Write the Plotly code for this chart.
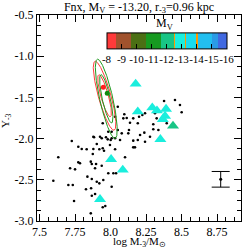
import numpy as np
import plotly.graph_objects as go

# ---------------- data ----------------
dots_x = [7.597, 7.632, 7.703, 7.734, 7.715, 7.750, 7.727, 7.743, 7.773, 7.797,
          7.773, 7.785, 7.832, 7.837, 7.827, 7.861, 7.868, 7.868, 7.863, 7.868,
          7.879, 7.879, 7.875, 7.891, 7.891, 7.898, 7.903, 7.903, 7.921, 7.921,
          7.861, 7.884,
          7.938, 7.945, 7.954, 7.938, 7.949, 7.945, 7.963, 7.945, 7.926, 7.968,
          7.980, 8.001, 7.996, 7.984, 8.020, 8.039, 8.008, 8.008, 8.032, 8.032,
          8.051, 8.032, 8.051, 8.067, 8.079, 8.097, 8.090, 8.102, 7.984, 8.008,
          8.114, 8.137, 8.130, 8.125, 8.160, 8.160, 8.160, 8.172, 8.201, 8.192,
          8.192, 8.208, 8.224, 8.238, 8.243, 8.243, 8.278, 8.301, 8.301, 8.313,
          8.325, 8.337, 8.377, 8.396, 8.454, 8.489, 8.501]
dots_y = [-2.511, -2.227, -2.563, -2.563, -2.360, -2.373, -2.029, -2.757, -2.098, -2.126,
          -2.288, -2.300, -2.130, -2.462, -2.615, -2.280, -2.308, -2.490, -2.603, -2.693,
          -1.977, -2.126, -2.187, -2.360, -2.672, -2.308, -2.066, -2.523, -2.130, -2.543,
          -2.907, -1.984,
          -1.996, -2.118, -2.147, -2.329, -2.502, -2.834, -2.818, -1.814, -1.977, -1.984,
          -2.009, -2.017, -2.078, -2.421, -2.421, -2.421, -2.584, -1.916, -1.996, -2.130,
          -1.613, -1.734, -1.896, -2.017, -1.936, -1.705, -1.754, -2.227, -1.916, -1.996,
          -1.750, -1.807, -1.896, -1.936, -1.754, -2.025, -2.106, -2.106, -1.734, -1.814,
          -2.017, -1.956, -1.714, -1.928, -1.693, -2.038, -1.977, -1.826, -1.887, -1.693,
          -1.754, -1.896, -1.544, -1.814, -1.532, -1.592, -1.681]

tri_x = [8.177, 8.192, 8.294, 8.327, 8.391, 8.384, 8.368, 8.440, 8.351, 8.004, 8.086, 7.926]
tri_y = [-1.337, -1.674, -1.625, -1.661, -1.641, -1.726, -1.766, -1.847, -2.009, -2.251, -2.381, -2.737]
tri_mv = [-12.9, -12.9, -12.9, -12.9, -12.9, -12.9, -12.9, -12.0, -12.9, -12.9, -12.9, -12.9]

# best-fit points and Gaussian confidence contours (mean x, mean y, sx, sy, rho)
red_best = (7.949, -1.377)
green_best = (7.977, -1.450)
red_gauss = (7.958, -1.480, 0.032, 0.168, -0.82)
green_gauss = (7.970, -1.517, 0.031, 0.193, -0.79)
contour_levels = [1.52, 2.49]

err_x = [8.776]
err_y = [-2.494]
err_dy = [0.095]

mv_ticks = [-8, -9, -10, -11, -12, -13, -14, -15, -16]
x_ticks = [7.5, 7.75, 8.0, 8.25, 8.5, 8.75]
x_ticktext = ["7.5", "7.75", "8.0", "8.25", "8.5", "8.75"]
y_ticks = [-3.0, -2.5, -2.0, -1.5, -1.0, -0.5]
y_ticktext = ["-3.0", "-2.5", "-2.0", "-1.5", "-1.0", "-0.5"]

FONT = "Liberation Serif"

# discrete colour scale over -M_V in [8, 16]
blocks = [(8.0, 8.6, "#ff3a3a"), (8.6, 9.6, "#a0522d"), (9.6, 10.6, "#4b6f14"),
          (10.6, 11.6, "#169a20"), (11.6, 12.45, "#18c585"), (12.45, 12.55, "#ff9900"),
          (12.55, 13.2, "#1aeedd"), (13.2, 13.3, "#ff9900"), (13.3, 13.95, "#19dcee"),
          (13.95, 14.05, "#ff9900"), (14.05, 15.0, "#22bff0"), (15.0, 15.4, "#2a9be6"),
          (15.4, 16.0, "#4169e1")]
cscale = []
for a, b, c in blocks:
    cscale.append([(a - 8) / 8, c])
    cscale.append([(b - 8) / 8, c])


def ellipse(g, k, n=240):
    cx, cy, sx, sy, rho = g
    cov = np.array([[sx * sx, rho * sx * sy], [rho * sx * sy, sy * sy]])
    vals, vecs = np.linalg.eigh(cov)
    t = np.linspace(0, 2 * np.pi, n)
    circ = np.vstack([np.cos(t), np.sin(t)])
    pts = vecs @ np.diag(np.sqrt(vals) * k) @ circ
    return cx + pts[0], cy + pts[1]


fig = go.Figure()

fig.add_trace(go.Scatter(x=dots_x, y=dots_y, mode="markers",
                         marker=dict(color="black", size=2.6), showlegend=False))

for g, col in [(red_gauss, "#ff3c3c"), (green_gauss, "#1e9a1e")]:
    for k in contour_levels:
        ex, ey = ellipse(g, k)
        fig.add_trace(go.Scatter(x=ex, y=ey, mode="lines",
                                 line=dict(color=col, width=1), showlegend=False))

fig.add_trace(go.Scatter(x=[red_best[0]], y=[red_best[1]], mode="markers",
                         marker=dict(color="#ff2020", size=5), showlegend=False))
fig.add_trace(go.Scatter(x=[green_best[0]], y=[green_best[1]], mode="markers",
                         marker=dict(color="#0f8a0f", size=5), showlegend=False))

fig.add_trace(go.Scatter(
    x=tri_x, y=tri_y, mode="markers", showlegend=False,
    marker=dict(symbol="triangle-up", size=10.5, color=[-v for v in tri_mv],
                colorscale=cscale, cmin=8, cmax=16, showscale=True,
                colorbar=dict(orientation="h", x=0.635, xanchor="center",
                              y=0.822, yanchor="middle", len=0.588, lenmode="fraction",
                              thickness=16, thicknessmode="pixels",
                              outlinecolor="black", outlinewidth=1,
                              tickvals=[-v for v in mv_ticks],
                              ticktext=[str(v) for v in mv_ticks],
                              tickangle=0,
                              ticks="inside", ticklen=5, tickcolor="black",
                              tickfont=dict(family=FONT, size=11, color="black"),
                              xpad=0, ypad=0),
                line=dict(width=0))))

fig.add_trace(go.Scatter(x=err_x, y=err_y, mode="markers", showlegend=False,
                         marker=dict(color="black", size=3),
                         error_y=dict(type="data", array=err_dy, color="black",
                                      thickness=1, width=9)))

axis_common = dict(showline=True, linecolor="black", linewidth=1, mirror="ticks",
                   ticks="inside", ticklen=7, tickcolor="black", tickwidth=1,
                   showgrid=False, zeroline=False, automargin=False,
                   tickfont=dict(family=FONT, size=12, color="black"))

fig.update_xaxes(range=[7.482, 8.919], tickmode="array", tickvals=x_ticks,
                 ticktext=x_ticktext,
                 minor=dict(dtick=0.0625, tick0=7.5, ticks="inside", ticklen=4,
                            tickcolor="black"),
                 **axis_common)
fig.update_yaxes(range=[-3.0, -0.5], tickmode="array", tickvals=y_ticks,
                 ticktext=y_ticktext,
                 minor=dict(dtick=0.125, tick0=-3.0, ticks="inside", ticklen=4,
                            tickcolor="black"),
                 **axis_common)

fig.add_annotation(text="log M<sub>-3</sub>/M<sub>\u2299</sub>", xref="paper", yref="paper",
                   x=0.5, y=-0.102, xanchor="center", yanchor="middle", showarrow=False,
                   font=dict(family=FONT, size=11, color="black"))
fig.add_annotation(text="Y<sub>-3</sub>", xref="paper", yref="paper",
                   x=-0.152, y=0.49, xanchor="center", yanchor="middle", showarrow=False,
                   textangle=-90, font=dict(family=FONT, size=11, color="black"))
fig.add_annotation(text="M<sub>V</sub>", xref="paper", yref="paper",
                   x=0.627, y=0.955, xanchor="center", yanchor="middle", showarrow=False,
                   font=dict(family=FONT, size=12, color="black"))

fig.update_layout(
    width=248, height=248,
    margin=dict(l=37, r=7, t=15, b=27, autoexpand=False),
    paper_bgcolor="white", plot_bgcolor="white",
    title=dict(text="Fnx, M<sub>V</sub> = -13.20, r<sub>-3</sub>=0.96 kpc",
               x=0.5, xref="paper", xanchor="center", y=0.99, yanchor="top",
               font=dict(family=FONT, size=12, color="black")),
    font=dict(family=FONT, color="black"),
)

fig.write_html("out.html", config={"displayModeBar": False},
               post_script="document.body.style.margin='0px';")
